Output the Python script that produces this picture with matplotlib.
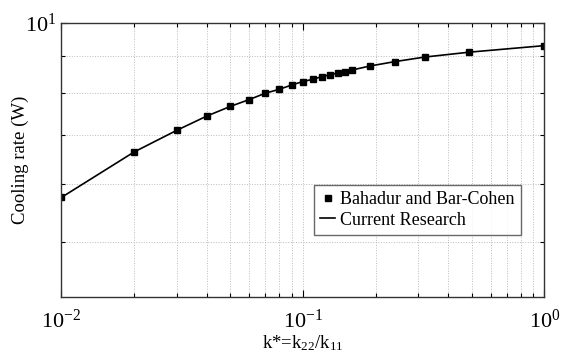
import matplotlib
matplotlib.use("Agg")
import matplotlib.pyplot as plt
from matplotlib.ticker import LogLocator, NullFormatter

plt.rcParams['font.family'] = ['Liberation Serif', 'DejaVu Serif']
plt.rcParams['mathtext.fontset'] = 'custom'
plt.rcParams['mathtext.rm'] = 'Liberation Serif'
plt.rcParams['mathtext.it'] = 'Liberation Serif:italic'

# k* = k22/k11 and cooling rate (W)
k_ratio = [0.01, 0.02, 0.03, 0.04, 0.05, 0.06, 0.07, 0.08, 0.09, 0.10,
           0.11, 0.12, 0.13, 0.14, 0.15, 0.16, 0.19, 0.24, 0.32, 0.49, 1.0]
cooling = [5.75, 6.64, 7.11, 7.44, 7.67, 7.84, 8.00, 8.10, 8.21, 8.30,
           8.36, 8.43, 8.48, 8.53, 8.56, 8.61, 8.72, 8.84, 8.97, 9.11, 9.30]

fig = plt.figure(figsize=(5.63, 3.56), dpi=100)
ax = fig.add_axes([0.1089, 0.1666, 0.8579, 0.7696])

ax.loglog(k_ratio, cooling, 's', color='black', markersize=4,
          label='Bahadur and Bar-Cohen')
ax.loglog(k_ratio, cooling, '-', color='black', linewidth=1.2,
          label='Current Research')

ax.set_xlim(0.01, 1.0)
ax.set_ylim(4.2, 10)

ax.xaxis.set_major_locator(LogLocator(base=10))
ax.xaxis.set_minor_locator(LogLocator(base=10, subs=range(2, 10)))
ax.yaxis.set_major_locator(LogLocator(base=10))
ax.yaxis.set_minor_locator(LogLocator(base=10, subs=range(2, 10)))
ax.xaxis.set_minor_formatter(NullFormatter())
ax.yaxis.set_minor_formatter(NullFormatter())

ax.grid(True, which='both', linestyle=':', color='#bbbbbb', linewidth=0.7)
ax.tick_params(which='both', direction='in', top=True, right=True,
               labelsize=16, width=0.8)
ax.tick_params(axis='x', which='major', pad=9)
ax.tick_params(which='major', length=5)
ax.tick_params(which='minor', length=3)
for s in ax.spines.values():
    s.set_linewidth(1.0)
    s.set_color('#333333')

ax.set_xlabel('k*=k$_{22}$/k$_{11}$', fontsize=13.5, labelpad=1)
ax.set_ylabel('Cooling rate (W)', fontsize=13.5)
ax.yaxis.set_label_coords(-0.066, 0.5)

leg = ax.legend(loc='lower right', bbox_to_anchor=(0.952, 0.225), fontsize=13,
                frameon=True, fancybox=False, edgecolor='#444444',
                handlelength=0.8, handletextpad=0.3, borderpad=0.35,
                labelspacing=0.2, borderaxespad=0)
leg.get_frame().set_linewidth(1.0)

fig.savefig('out.png', dpi=100)
